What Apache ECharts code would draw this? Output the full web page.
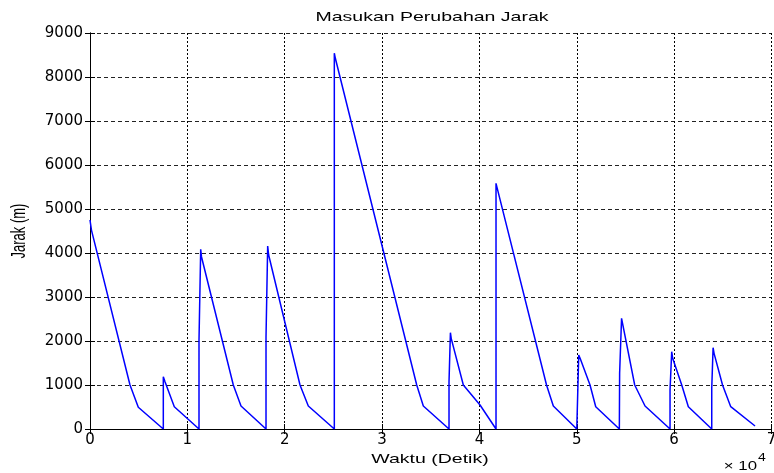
<!DOCTYPE html>
<html>
<head>
<meta charset="utf-8">
<script src="https://cdn.jsdelivr.net/npm/echarts@6/dist/echarts.min.js"></script>
<style>
html,body{margin:0;padding:0;background:#fff;}
#chart{width:774px;height:473px;}
</style>
</head>
<body>
<div id="chart"></div>
<script>
// Time (seconds) and distance (m)
var waktu = [
  0, 150, 4109, 4961, 7530,
  7530, 7704, 8659, 11196,
  11196, 11371, 11450, 14720, 15511, 18079,
  18079, 18250, 18350, 21571, 22424, 25095,
  25095, 25200, 33559, 34237, 36876,
  36876, 37020, 37100, 38346, 40061, 41704,
  41704, 41830, 46892, 47590, 50000,
  50100, 50200, 50350, 51360, 51946, 54371,
  54400, 54400, 54600, 54700, 55950, 57010, 59578,
  59578, 59750, 59850, 60780, 61458, 63862,
  63862, 64000, 64100, 64970, 65813, 68309
];
var jarak = [
  4750, 4520, 1000, 493, 0,
  1190, 1075, 507, 0,
  2023, 4084, 3916, 1000, 523, 0,
  2083, 4160, 3955, 1000, 523, 0,
  8540, 8425, 1000, 523, 0,
  1076, 2189, 2061, 1000, 545, 0,
  5583, 5470, 1000, 523, 0,
  0, 1682, 1600, 1000, 507, 0,
  0, 1265, 2515, 2400, 1000, 523, 0,
  886, 1757, 1606, 1000, 507, 0,
  925, 1848, 1720, 1000, 507, 68
];
var xTicks = [0, 1, 2, 3, 4, 5, 6, 7];   // x 10^4
var yTicks = [0, 1000, 2000, 3000, 4000, 5000, 6000, 7000, 8000, 9000];

var titleText = 'Masukan Perubahan Jarak';
var xName = 'Waktu (Detik)';
var yName = 'Jarak (m)';

var data = waktu.map(function (t, i) { return [t, jarak[i]]; });

var tickFont = { fontFamily: 'DejaVu Sans', fontSize: 15, color: '#000' };
var lbl = 'Liberation Sans';

var chart = echarts.init(document.getElementById('chart'), null, { renderer: 'canvas' });
chart.setOption({
  backgroundColor: '#fff',
  animation: false,
  grid: { left: 90, top: 33, right: 2.5, bottom: 44, containLabel: false, outerBoundsMode: 'none' },
  xAxis: [{
    type: 'value', position: 'bottom',
    min: xTicks[0] * 10000, max: xTicks[xTicks.length - 1] * 10000, interval: 10000,
    axisLine: { show: true, lineStyle: { color: '#000', width: 1 } },
    axisTick: { show: true, inside: true, length: 5, lineStyle: { color: '#000' } },
    axisLabel: Object.assign({ margin: 4, formatter: function (v) { return String(v / 10000); } }, tickFont),
    splitLine: { show: true, lineStyle: { color: '#000', type: [2, 2], width: 1 } }
  }, {
    type: 'value', position: 'top',
    min: xTicks[0] * 10000, max: xTicks[xTicks.length - 1] * 10000, interval: 10000,
    axisLine: { show: true, lineStyle: { color: '#000', width: 1 } },
    axisTick: { show: true, inside: true, length: 5, lineStyle: { color: '#000' } },
    axisLabel: { show: false }, splitLine: { show: false }
  }],
  yAxis: [{
    type: 'value', position: 'left',
    min: yTicks[0], max: yTicks[yTicks.length - 1], interval: 1000,
    axisLine: { show: true, lineStyle: { color: '#000', width: 1 } },
    axisTick: { show: true, inside: true, length: 5, lineStyle: { color: '#000' } },
    axisLabel: Object.assign({ margin: 7, formatter: function (v) { return String(v); } }, tickFont),
    splitLine: { show: true, lineStyle: { color: '#222', type: [4, 3], width: 1 } }
  }, {
    type: 'value', position: 'right',
    min: yTicks[0], max: yTicks[yTicks.length - 1], interval: 1000,
    axisLine: { show: true, lineStyle: { color: '#000', width: 1 } },
    axisTick: { show: true, inside: true, length: 5, lineStyle: { color: '#000' } },
    axisLabel: { show: false }, splitLine: { show: false }
  }],
  series: [{
    type: 'line', xAxisIndex: 0, yAxisIndex: 0,
    data: data, showSymbol: false, symbol: 'none',
    lineStyle: { color: '#0000ff', width: 1.5 },
    itemStyle: { color: '#0000ff' }
  }],
  graphic: [
    { type: 'text', x: 432, y: 17, scaleX: 1.5,
      style: { text: titleText, font: '13px ' + lbl, fill: '#000', textAlign: 'center', textVerticalAlign: 'middle' } },
    { type: 'text', x: 430, y: 459, scaleX: 1.5,
      style: { text: xName, font: '13px ' + lbl, fill: '#000', textAlign: 'center', textVerticalAlign: 'middle' } },
    { type: 'text', x: 20, y: 231, rotation: Math.PI / 2, scaleY: 1.5,
      style: { text: yName, font: '13px ' + lbl, fill: '#000', textAlign: 'center', textVerticalAlign: 'middle' } },
    { type: 'text', x: 757, y: 467, scaleX: 1.4,
      style: { text: '\u00d7 10', font: '12px ' + lbl, fill: '#000', textAlign: 'right', textVerticalAlign: 'middle' } },
    { type: 'text', x: 758, y: 458, scaleX: 1.4,
      style: { text: '4', font: '10px ' + lbl, fill: '#000', textAlign: 'left', textVerticalAlign: 'middle' } }
  ]
});
</script>
</body>
</html>
